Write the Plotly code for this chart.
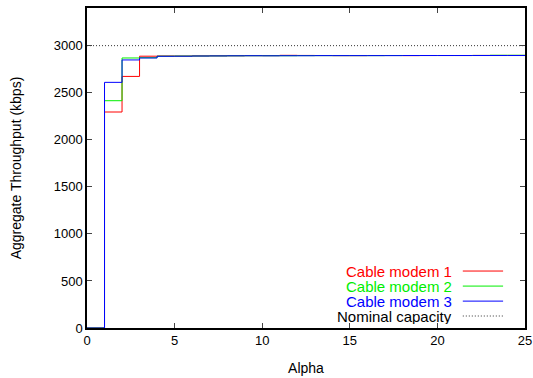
import plotly.graph_objects as go

alpha = list(range(0, 26))
cm1 = [0, 2295, 2673, 2888, 2890, 2889, 2891, 2892, 2893, 2894, 2894, 2897, 2896, 2895, 2894, 2894, 2895, 2895, 2894, 2895, 2895, 2895, 2896, 2896, 2896, 2896]
cm2 = [0, 2415, 2869, 2872, 2888, 2889, 2890, 2891, 2892, 2893, 2893, 2893, 2894, 2894, 2894, 2894, 2894, 2895, 2895, 2895, 2895, 2895, 2896, 2898, 2898, 2898]
cm3 = [0, 2610, 2848, 2869, 2887, 2888, 2890, 2891, 2892, 2893, 2892, 2893, 2893, 2894, 2894, 2894, 2894, 2894, 2895, 2895, 2895, 2895, 2895, 2895, 2895, 2895]
nominal = 3000
names = ["Cable modem 1", "Cable modem 2", "Cable modem 3", "Nominal capacity"]
colors = ["#ff0000", "#00ee00", "#0000ff", "#000000"]

fig = go.Figure()
for ys, nm, c in zip([cm1, cm2, cm3], names[:3], colors[:3]):
    fig.add_trace(go.Scatter(x=alpha, y=ys, mode="lines", line_shape="hv",
                             line=dict(color=c, width=1), name=nm, showlegend=False))
fig.add_trace(go.Scatter(x=[0, 25], y=[nominal, nominal], mode="lines",
                         line=dict(color="#333333", width=1, dash="1px,2px"),
                         name=names[3], showlegend=False))

fam = "Liberation Sans, Arial, sans-serif"
font = dict(family=fam, size=13, color="#000000")

# Custom gnuplot-style legend (text on left, sample on right)
rows = [0.178, 0.131, 0.084, 0.0375]
for nm, c, yy in zip(names, colors, rows):
    fig.add_annotation(x=0.835, y=yy, xref="paper", yref="paper", text=nm,
                       showarrow=False, xanchor="right", yanchor="middle",
                       height=15, borderpad=0,
                       font=dict(family=fam, size=15, color=c))
    fig.add_shape(type="line", xref="paper", yref="paper", x0=0.858, x1=0.950, y0=yy, y1=yy,
                  line=dict(color="#333333" if nm == names[3] else c, width=1,
                            dash="1px,2px" if nm == names[3] else "solid"))

fig.update_layout(
    width=533, height=378,
    margin=dict(l=87, r=8, t=8, b=50, autoexpand=False),
    paper_bgcolor="white", plot_bgcolor="white",
    font=font,
    showlegend=False,
)
fig.update_xaxes(range=[0, 25], tickvals=[0, 5, 10, 15, 20, 25], ticks="inside", ticklen=5,
                 mirror="ticks", showline=True, linecolor="black", linewidth=1.5,
                 showgrid=False, zeroline=False, automargin=False,
                 title=dict(text="Alpha", standoff=16, font=dict(family=fam, size=14)),
                 tickfont=font)
fig.update_yaxes(range=[0, 3400], tickvals=[0, 500, 1000, 1500, 2000, 2500, 3000], ticks="inside", ticklen=5,
                 mirror="ticks", showline=True, linecolor="black", linewidth=1.5,
                 showgrid=False, zeroline=False, automargin=False,
                 title=dict(text="Aggregate Throughput (kbps)", standoff=29, font=dict(family=fam, size=14)),
                 tickfont=font)

fig.write_html("out.html")
